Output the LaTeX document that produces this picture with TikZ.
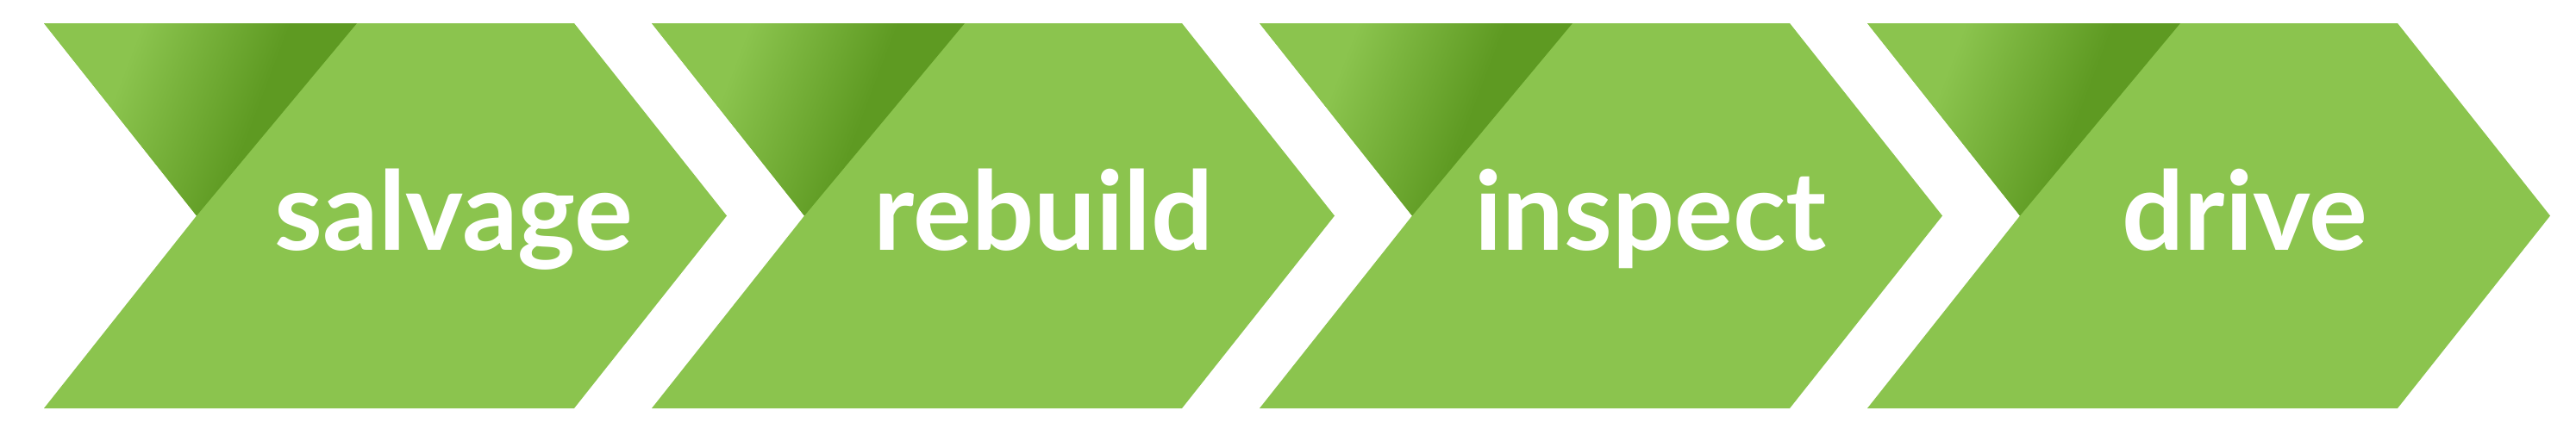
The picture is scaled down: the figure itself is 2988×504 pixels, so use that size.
\documentclass[tikz,border=0pt]{standalone}
\usepackage{fontspec}
\setmainfont{Lato}
\definecolor{leafgreen}{RGB}{139,196,78}
\definecolor{mossgreen}{RGB}{94,154,34}
\pgfdeclarehorizontalshading{foldshade}{100bp}{color(0bp)=(leafgreen); color(34bp)=(leafgreen); color(59bp)=(mossgreen); color(100bp)=(mossgreen)}
\begin{document}
\begin{tikzpicture}[x=0.25pt,y=-0.25pt,
    chevron/.style={fill=leafgreen},
    fold/.style={shading=foldshade, shading angle=-20.8},
    lbl/.style={text=white, font=\bfseries\fontsize{31.8}{38}\selectfont, anchor=base, inner sep=0pt}]
        \useasboundingbox (0,0) rectangle (2988,504);
        \foreach \cx/\word [count=\i from 0] in {526.5/salvage, 1210.5/rebuild, 1914.5/inspect, 2604/drive}{
          \begin{scope}[shift={(\i*705,0)}]
            \fill[chevron] (51,27) -- (666,27) -- (843,250.5) -- (666,474) -- (51,474) -- (228,250.5) -- cycle;
            \shade[fold] (51,27) -- (414,27) -- (228,250.5) -- cycle;
          \end{scope}
          \node[lbl] (word\i) at (\cx,290) {\word};
        }
      \end{tikzpicture}
\end{document}
